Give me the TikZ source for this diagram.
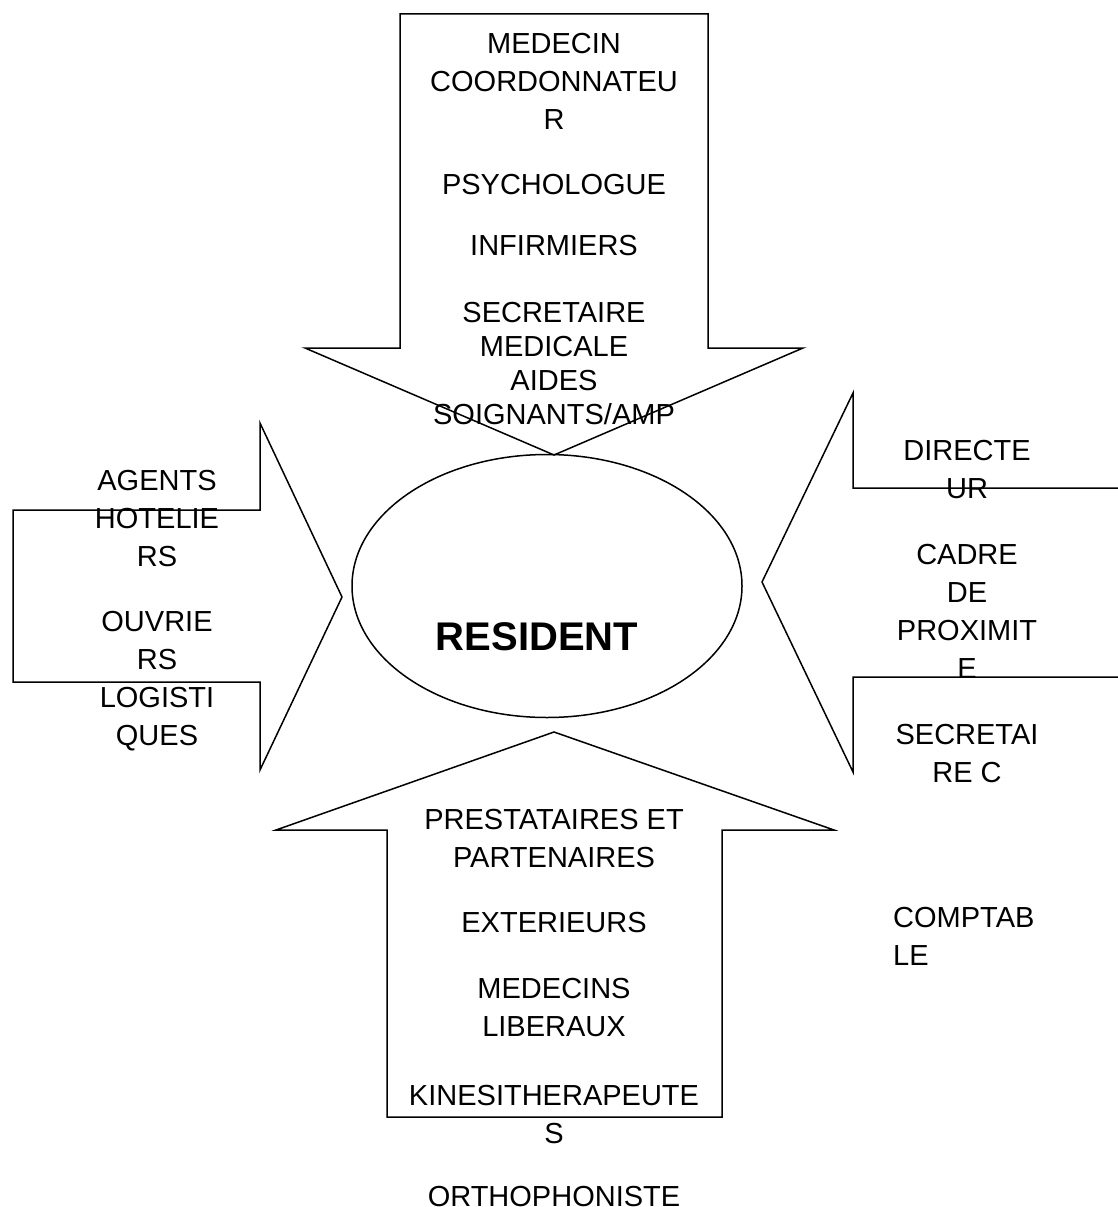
\documentclass[tikz,border=0pt]{standalone}
\usepackage{fontspec}
\setmainfont{Liberation Sans}
\usetikzlibrary{shapes.geometric}
\begin{document}
\begin{tikzpicture}[x=1pt, y=-1pt,
    every node/.style={inner sep=0pt},
    fleche/.style={line width=1.5pt, line join=miter},
    etiquette/.style={align=center, font=\fontsize{29}{38}\selectfont},
    serre/.style={align=center, font=\fontsize{29}{33.7}\selectfont}]
  \fill[white] (0,0) rectangle (1118,1207);
  \useasboundingbox (0,0) rectangle (1118,1207);

  % the four block arrows pointing at the resident
  \draw[fleche] (400,14) -- (708,14) -- (708,348) -- (803,348) -- (554,455)
    -- (305,348) -- (400,348) -- cycle;
  \draw[fleche] (13,510) -- (260,510) -- (260,423) -- (342,597) -- (260,770)
    -- (260,682) -- (13,682) -- cycle;
  \draw[fleche] (1118,488) -- (853,488) -- (853,393) -- (762,582) -- (853,772)
    -- (853,677) -- (1118,677);
  \draw[fleche] (387,1117) -- (387,830) -- (276,830) -- (554,732) -- (834,830)
    -- (722,830) -- (722,1117) -- cycle;

  % resident in the middle
  \node[draw, ellipse, fleche, minimum width=390pt, minimum height=263pt] (bulle) at (547,586) {};
  \node[font=\fontsize{40}{48}\selectfont\bfseries] (resident) at (537,637) {RESIDENT};

  % top
  \node[etiquette] (medecin) at (554,81.5) {MEDECIN\\COORDONNATEU\\R};
  \node[etiquette] (psycho) at (554,185) {PSYCHOLOGUE};
  \node[etiquette] (infirmiers) at (554,246) {INFIRMIERS};
  \node[serre] (secmed) at (554,363.5) {SECRETAIRE\\MEDICALE\\AIDES\\SOIGNANTS/AMP};

  % left
  \node[etiquette] (agents) at (157,519) {AGENTS\\HOTELIE\\RS};
  \node[etiquette] (ouvriers) at (157,681.5) {OUVRIE\\RS\\LOGISTI\\QUES};

  % right
  \node[etiquette] (directeur) at (967,469.5) {DIRECTE\\UR};
  \node[etiquette] (cadre) at (967,611.5) {CADRE\\DE\\PROXIMIT\\E};
  \node[etiquette] (secretaire) at (967,754) {SECRETAI\\RE C};
  \node[etiquette, align=left, anchor=west] (comptable) at (893,936.5) {COMPTAB\\LE};

  % bottom
  \node[etiquette] (prestataires) at (554,838.5) {PRESTATAIRES ET\\PARTENAIRES};
  \node[etiquette] (exterieurs) at (554,923) {EXTERIEURS};
  \node[etiquette] (liberaux) at (554,1007.5) {MEDECINS\\LIBERAUX};
  \node[etiquette] (kine) at (554,1115) {KINESITHERAPEUTE\\S};
  \node[etiquette] (ortho) at (554,1197) {ORTHOPHONISTE};
\end{tikzpicture}
\end{document}
